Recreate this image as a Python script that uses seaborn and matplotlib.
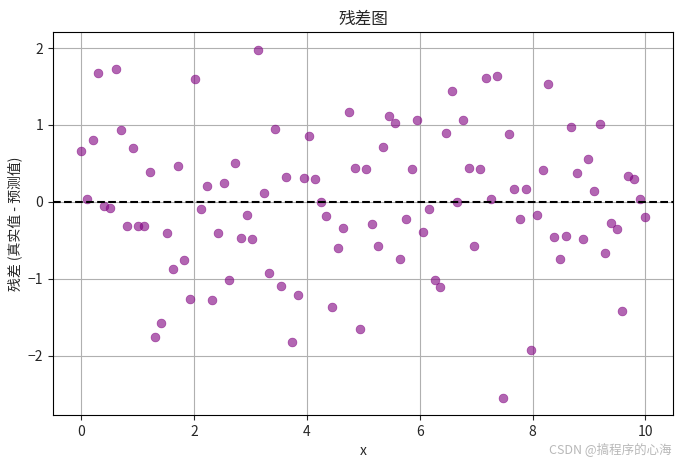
import numpy as np
import pandas as pd
import matplotlib
matplotlib.use("Agg")
import matplotlib.pyplot as plt
import seaborn as sns

# residuals (100 points on x = linspace(0, 10, 100))
x = np.linspace(0, 10, 100)
residuals = [
    0.66, 0.03, 0.81, 1.68, -0.06, -0.08, 1.73, 0.93, -0.31, 0.70,
    -0.31, -0.31, 0.39, -1.76, -1.58, -0.41, -0.87, 0.47, -0.76, -1.27,
    1.60, -0.09, 0.21, -1.28, -0.41, 0.25, -1.02, 0.51, -0.47, -0.17,
    -0.48, 1.98, 0.12, -0.93, 0.95, -1.10, 0.32, -1.83, -1.21, 0.31,
    0.86, 0.29, 0.00, -0.19, -1.37, -0.60, -0.34, 1.17, 0.44, -1.65,
    0.43, -0.29, -0.58, 0.71, 1.12, 1.02, -0.75, -0.22, 0.42, 1.06,
    -0.39, -0.10, -1.02, -1.11, 0.89, 1.44, 0.00, 1.07, 0.44, -0.57,
    0.43, 1.61, 0.04, 1.63, -2.55, 0.88, 0.16, -0.23, 0.16, -1.93,
    -0.17, 0.41, 1.53, -0.46, -0.75, -0.45, 0.97, 0.38, -0.48, 0.56,
    0.14, 1.01, -0.66, -0.28, -0.35, -1.42, 0.34, 0.30, 0.04, -0.20,
]

df = pd.DataFrame({"x": x, "residual": residuals})

sns.set_style("white")
plt.rcParams["font.family"] = ["Noto Sans CJK SC", "DejaVu Sans"]
plt.rcParams["axes.unicode_minus"] = True

fig, ax = plt.subplots(figsize=(6.82, 4.66), dpi=100)
fig.subplots_adjust(left=0.078, right=0.9875, top=0.931, bottom=0.109)

sns.scatterplot(data=df, x="x", y="residual", color="purple", alpha=0.6,
                s=40, edgecolor="purple", linewidth=0.5, ax=ax)
ax.axhline(0, color="black", linestyle="--", linewidth=1.5)

ax.set_title("残差图", fontsize=12)
ax.set_xlabel("x", fontsize=10)
ax.set_ylabel("残差 (真实值 - 预测值)", fontsize=10)
ax.set_yticks([-2, -1, 0, 1, 2])
ax.grid(True, color="#b0b0b0", linewidth=0.8)
for s in ax.spines.values():
    s.set_color("black")
    s.set_linewidth(0.8)
ax.tick_params(axis="both", which="both", length=3.5, width=0.8,
               direction="out", bottom=True, left=True, labelsize=10)

fig.text(0.985, 0.02, "CSDN @搞程序的心海", ha="right", va="bottom",
         fontsize=9, color="#b8b8b8")

fig.savefig("out.png", dpi=100)
